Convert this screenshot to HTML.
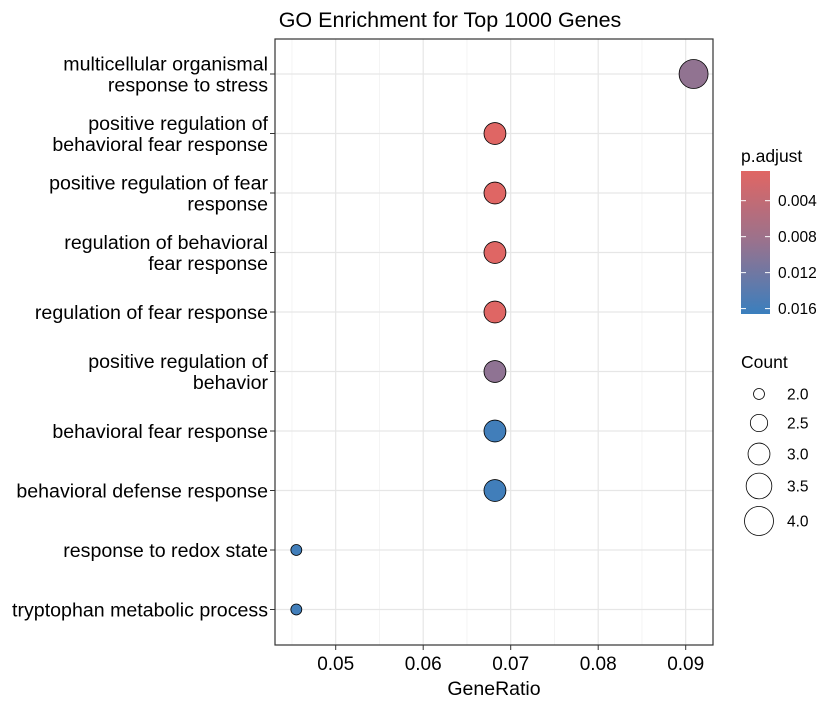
<!DOCTYPE html>
<html><head><meta charset="utf-8"><style>
body{margin:0;background:#fff;font-family:"Liberation Sans",Arial,sans-serif;}
</style></head><body>
<svg id="chart" width="833" height="707" xmlns="http://www.w3.org/2000/svg" font-family="Liberation Sans, Arial, sans-serif">
<rect width="833" height="707" fill="#fff"/>
<text x="450" y="27" font-size="21.5" text-anchor="middle" fill="#000">GO Enrichment for Top 1000 Genes</text>
<g id="grid"></g><g id="yaxis"></g><g id="xaxis"></g><g id="points"></g>
<rect x="275" y="39" width="438" height="606" fill="none" stroke="#333" stroke-width="1.2"/>
<text x="494" y="695" font-size="19.5" text-anchor="middle">GeneRatio</text>
<g id="legend"></g>
</svg>
<script>
const terms = [["multicellular organismal","response to stress"],["positive regulation of","behavioral fear response"],["positive regulation of fear","response"],["regulation of behavioral","fear response"],["regulation of fear response"],["positive regulation of","behavior"],["behavioral fear response"],["behavioral defense response"],["response to redox state"],["tryptophan metabolic process"]];
const geneRatio = [0.0909,0.0682,0.0682,0.0682,0.0682,0.0682,0.0682,0.0682,0.0455,0.0455];
const counts = [4,3,3,3,3,3,3,3,2,2];
const padj = [0.0092,0.0008,0.0008,0.0008,0.0008,0.0094,0.0160,0.0160,0.0160,0.0160];
const xTicks = [0.05,0.06,0.07,0.08,0.09];
const cTicks = [0.004,0.008,0.012,0.016];
const sizeTicks = [2.0,2.5,3.0,3.5,4.0];

const NS="http://www.w3.org/2000/svg";
const X = v => 335.7 + (v-0.05)*8750;
const Y = i => 74 + i*59.5;
const R = c => Math.sqrt(Math.max(1, -150 + 90*c));
const cTop=171, cBot=314, pMin=0.0007, pMax=0.0166;
const CY = p => cTop + (p-pMin)/(pMax-pMin)*(cBot-cTop);
const c1=[224,102,99], c2=[152,114,142], c3=[58,127,190];
function col(p){let t=Math.min(1,Math.max(0,(p-pMin)/(pMax-pMin)));let a,b,u;
 if(t<0.5){a=c1;b=c2;u=t*2}else{a=c2;b=c3;u=(t-0.5)*2}
 return "rgb("+a.map((v,k)=>Math.round(v+(b[k]-v)*u)).join(",")+")";}
function mk(tag,attrs,parent){const e=document.createElementNS(NS,tag);for(const k in attrs)e.setAttribute(k,attrs[k]);document.getElementById(parent).appendChild(e);return e;}

[0.045,0.055,0.065,0.075,0.085].forEach(v=>{const l=mk("line",{x1:X(v),x2:X(v),y1:39,y2:645,stroke:"#f2f2f2","stroke-width":0.8},"grid");

});
xTicks.forEach(v=>{const l=mk("line",{x1:X(v),x2:X(v),y1:39,y2:645,stroke:"#e6e6e6","stroke-width":1.2},"grid");


const t=mk("line",{x1:X(v),x2:X(v),y1:645,y2:650,stroke:"#333"},"xaxis");


const lb=mk("text",{x:X(v),y:670,"font-size":19,"text-anchor":"middle",fill:"#000"},"xaxis");
lb.textContent=v.toFixed(2);

});
terms.forEach((tm,i)=>{const y=Y(i);
const l=mk("line",{x1:275,x2:713,y1:y,y2:y,stroke:"#e6e6e6","stroke-width":1.2},"grid");


const t=mk("line",{x1:270,x2:275,y1:y,y2:y,stroke:"#333"},"yaxis");


const txt=mk("text",{x:268,"font-size":19.6,"text-anchor":"end",fill:"#000"},"yaxis");


tm.forEach((line,k)=>{const ts=document.createElementNS(NS,"tspan");ts.setAttribute("x",268);
 ts.setAttribute("y", y+7 + (k - (tm.length-1)/2)*21); ts.textContent=line; txt.appendChild(ts);});
});
geneRatio.forEach((g,i)=>{const c=mk("circle",{cx:X(g),cy:Y(i),r:R(counts[i]),fill:col(padj[i]),stroke:"#000","stroke-width":0.8},"points");

});
const defs=mk("defs",{},"legend");
const lg=document.createElementNS(NS,"linearGradient");lg.setAttribute("id","cg");lg.setAttribute("x1",0);lg.setAttribute("x2",0);lg.setAttribute("y1",0);lg.setAttribute("y2",1);defs.appendChild(lg);
for(let s=0;s<=10;s++){const st=document.createElementNS(NS,"stop");st.setAttribute("offset",s/10);st.setAttribute("stop-color",col(pMin+(pMax-pMin)*s/10));lg.appendChild(st);}
const tt=mk("text",{x:741,y:162,"font-size":17.5},"legend");tt.textContent="p.adjust";


const bar=mk("rect",{x:741,y:cTop,width:29,height:cBot-cTop,fill:"url(#cg)"},"legend");


cTicks.forEach(v=>{const y=CY(v);
mk("line",{x1:741,x2:746,y1:y,y2:y,stroke:"#fff","stroke-width":1},"legend");
mk("line",{x1:765,x2:770,y1:y,y2:y,stroke:"#fff","stroke-width":1},"legend");
const lb=mk("text",{x:778,y:y+5.5,"font-size":15.5},"legend");lb.textContent=v.toFixed(3);

});
const st2=mk("text",{x:741,y:368,"font-size":17.5},"legend");st2.textContent="Count";


const sy=[394,423,454,486,521];
sizeTicks.forEach((v,k)=>{const c=mk("circle",{cx:759,cy:sy[k],r:R(v),fill:"none",stroke:"#000","stroke-width":0.8},"legend");


const lb=mk("text",{x:787,y:sy[k]+5.5,"font-size":15.5},"legend");lb.textContent=v.toFixed(1);

});
</script>
</body></html>
